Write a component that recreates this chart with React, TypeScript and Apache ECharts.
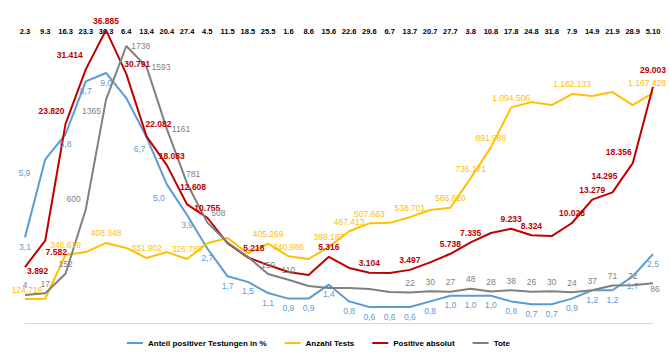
import React, { useEffect, useRef } from "react";
import * as echarts from "echarts";

const categories = ["2.3","9.3","16.3","23.3","30.3","6.4","13.4","20.4","27.4","4.5","11.5","18.5","25.5","1.6","8.6","15.6","22.6","29.6","6.7","13.7","20.7","27.7","3.8","10.8","17.8","24.8","31.8","7.9","14.9","21.9","28.9","5.10"];

const anteilPositiv = [3.1,5.9,6.8,8.7,9.0,8.1,6.7,5.0,3.9,2.7,1.7,1.5,1.1,0.9,0.9,1.4,0.8,0.6,0.6,0.6,0.8,1.0,1.0,1.0,0.8,0.7,0.7,0.9,1.2,1.2,1.7,2.5];
const anzahlTests = [124716,126000,348619,362000,408348,383000,331902,362000,326788,407000,433000,356000,405269,340986,327000,388187,467413,507663,510000,538701,575000,586620,736171,891988,1094506,1121000,1106000,1162133,1152000,1172000,1106000,1167428];
const positiveAbsolut = [3892,7582,23820,31414,36885,30791,22082,18083,12608,10755,7200,5218,4180,3200,2800,5316,3760,3104,3060,3497,4550,5738,7335,8630,9233,8324,8200,10028,13279,14295,18356,29003];
const tote = [4,17,152,600,1365,1738,1593,1161,781,508,370,270,150,110,67,53,53,46,25,22,30,27,48,28,38,26,30,24,37,71,72,86];

// indices whose values carry a visible label
const blueLabelled = categories.map((_, i) => i).filter((i) => i !== 5);
const yellowLabelled = [0,2,4,6,8,12,13,15,16,17,19,21,22,23,24,27,31];
const redLabelled = [0,1,2,3,4,5,6,7,8,9,11,15,17,19,21,22,24,25,27,28,29,30,31];
const grayLabelled = [0,1,2,3,4,5,6,7,8,9,12,13,19,20,21,22,23,24,25,26,27,28,29,30,31];

// label placement tweaks (style only)
const blueLabelPos: Record<number, any> = {
  1: { position: "left", offset: [-10, 14] },
  6: { position: "left", offset: [4, 12] },
  7: { position: "left", offset: [3, 14] },
};
const yellowLabelPos: Record<number, any> = {
  0: { offset: [2, 1] },
  31: { offset: [-6, 0] },
};
const redLabelPos: Record<number, any> = {
  0: { position: "right", offset: [-3, 4] },
  1: { position: "bottom", offset: [11, 2] },
  2: { position: "left", offset: [4, -13] },
  3: { position: "left", offset: [2, -14] },
  5: { offset: [11, 0] },
  6: { offset: [12, -3] },
  7: { offset: [5, 0] },
  8: { offset: [6, -8] },
  11: { offset: [6, 0] },
  29: { offset: [-8, -7] },
  30: { position: "left", offset: [4, -11] },
  31: { offset: [0, -7] },
};
const grayLabelPos: Record<number, any> = {
  3: { position: "left", offset: [0, -10] },
  4: { position: "left", offset: [0, 11] },
  5: { position: "right" },
  6: { position: "right" },
  7: { position: "right" },
  8: { offset: [6, 0] },
  9: { offset: [11, 0] },
  31: { position: "bottom", offset: [2, -4] },
};

const FONT = "Liberation Sans";

const deInt = (v: number) => Math.round(v).toString().replace(/\B(?=(\d{3})+(?!\d))/g, ".");
const deDec = (v: number) => v.toFixed(1).replace(".", ",");

function build(values: number[], labelled: number[], tweaks: Record<number, any>, defPos: string) {
  return values.map((v, i) => ({
    value: v,
    label: { show: labelled.includes(i), position: defPos, ...(tweaks[i] || {}) },
  }));
}

export default function App() {
  const ref = useRef<HTMLDivElement>(null);
  useEffect(() => {
    if (!ref.current) return;
    const chart = echarts.init(ref.current, undefined, { renderer: "svg" });
    const lineBase = (color: string, width = 2) => ({
      type: "line" as const,
      symbol: "circle",
      symbolSize: 0.1,
      showSymbol: true,
      showAllSymbol: true,
      clip: false,
      lineStyle: { color, width },
      itemStyle: { color },
      emphasis: { disabled: true },
    });
    chart.setOption({
      animation: false,
      backgroundColor: "#fff",
      grid: { left: 25, right: 17, top: 44, bottom: 31 },
      xAxis: [
        {
          type: "category", data: categories, position: "top", boundaryGap: false,
          axisLine: { show: false }, axisTick: { show: false }, splitLine: { show: false },
          axisLabel: { interval: 0, color: "#000", fontWeight: "bold", fontSize: 7.5, fontFamily: FONT, margin: 9 },
        },
        {
          type: "category", data: categories, position: "bottom", boundaryGap: false,
          axisLine: { show: true, onZero: false, lineStyle: { color: "#d9d9d9", width: 1 } },
          axisTick: { show: false }, axisLabel: { show: false }, splitLine: { show: false },
        },
      ],
      yAxis: [
        { type: "value", show: false, min: 0.025, max: 10.04, splitLine: { show: false } },
        { type: "value", show: false, min: 3037, max: 1415266, splitLine: { show: false } },
        { type: "value", show: false, min: -3898, max: 34944, splitLine: { show: false } },
        { type: "value", show: false, min: -190.8, max: 1752, splitLine: { show: false } },
      ],
      legend: {
        top: 334, left: 122, itemWidth: 16, itemHeight: 2, itemGap: 18, icon: "rect",
        textStyle: { fontFamily: FONT, fontWeight: "bold", fontSize: 8, color: "#000" },
        data: ["Anteil positiver Testungen in %", "Anzahl Tests", "Positive absolut", "Tote"],
      },
      series: [
        {
          ...lineBase("#5B9BD5"), name: "Anteil positiver Testungen in %", yAxisIndex: 0,
          data: build(anteilPositiv, blueLabelled, blueLabelPos, "bottom"),
          label: { color: "#5B9BD5", fontSize: 8.5, fontFamily: FONT, formatter: (p: any) => deDec(p.value) },
        },
        {
          ...lineBase("#FFC000"), name: "Anzahl Tests", yAxisIndex: 1,
          data: build(anzahlTests, yellowLabelled, yellowLabelPos, "top"),
          label: { color: "#FFC000", fontSize: 8.5, fontFamily: FONT, formatter: (p: any) => deInt(p.value) },
        },
        {
          ...lineBase("#C00000"), name: "Positive absolut", yAxisIndex: 2,
          data: build(positiveAbsolut, redLabelled, redLabelPos, "top"),
          label: { color: "#C00000", fontSize: 8.5, fontWeight: "bold", fontFamily: FONT, formatter: (p: any) => deInt(p.value) },
        },
        {
          ...lineBase("#808080"), name: "Tote", yAxisIndex: 3,
          data: build(tote, grayLabelled, grayLabelPos, "top"),
          label: { color: "#7F7F7F", fontSize: 8.5, fontFamily: FONT, formatter: (p: any) => String(Math.round(p.value)) },
        },
      ],
    });
    return () => chart.dispose();
  }, []);
  return <div ref={ref} style={{ position: "absolute", left: 0, top: 0, width: 670, height: 354 }} />;
}
